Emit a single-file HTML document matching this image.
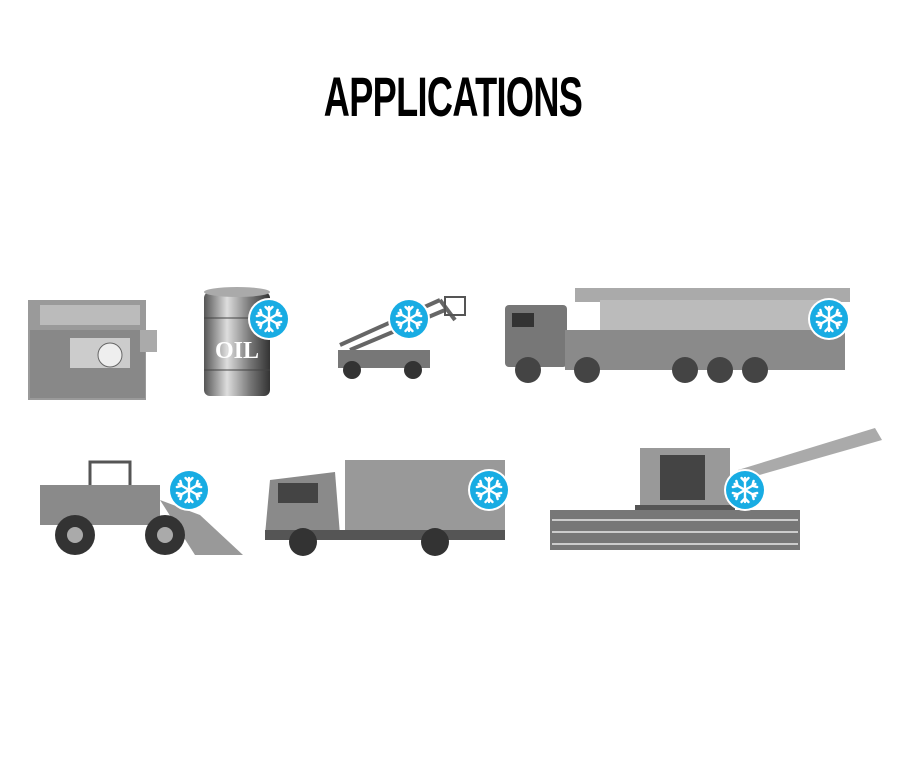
<!DOCTYPE html>
<html><head><meta charset="utf-8"><style>
html,body{margin:0;padding:0;background:#fff;width:906px;height:780px;overflow:hidden}
.t{position:absolute;left:0;top:64px;width:906px;text-align:center;font-family:"Liberation Sans",sans-serif;font-weight:bold;font-size:56px;letter-spacing:-1px;color:#000;transform:scaleX(0.645);}
svg{position:absolute;left:0;top:0}
</style></head><body>
<div class="t">APPLICATIONS</div>
<svg width="906" height="780" viewBox="0 0 906 780">
<defs>
<g id="arm"><line x1="0" y1="0" x2="0" y2="-12"/><polyline points="-3.5,-12 0,-8.5 3.5,-12"/></g>
<g id="badge">
<circle r="21" fill="#fff"/><circle r="19" fill="#18ace3"/>
<g stroke="#fff" stroke-width="2.4" stroke-linecap="round" fill="none">
<use href="#arm"/><use href="#arm" transform="rotate(60)"/><use href="#arm" transform="rotate(120)"/><use href="#arm" transform="rotate(180)"/><use href="#arm" transform="rotate(240)"/><use href="#arm" transform="rotate(300)"/>
</g></g>
<linearGradient id="cyl" x1="0" x2="1"><stop offset="0" stop-color="#555"/><stop offset=".35" stop-color="#ddd"/><stop offset=".7" stop-color="#777"/><stop offset="1" stop-color="#333"/></linearGradient>
</defs>
<g><rect x="28" y="300" width="118" height="100" fill="#9a9a9a"/>
<rect x="40" y="305" width="100" height="20" fill="#bbb"/>
<rect x="30" y="330" width="115" height="68" fill="#888"/>
<rect x="70" y="338" width="60" height="30" fill="#ccc"/>
<circle cx="110" cy="355" r="12" fill="#eee" stroke="#666"/>
<rect x="140" y="330" width="17" height="22" fill="#aaa"/></g>
<g><rect x="204" y="292" width="66" height="104" rx="6" fill="url(#cyl)"/>
<ellipse cx="237" cy="292" rx="33" ry="5" fill="#aaa"/>
<line x1="204" y1="318" x2="270" y2="318" stroke="#444"/><line x1="204" y1="370" x2="270" y2="370" stroke="#444"/>
<text x="237" y="358" font-family="Liberation Serif,serif" font-weight="bold" font-size="24" fill="#fff" text-anchor="middle">OIL</text></g>
<g stroke="#666" stroke-width="4" fill="none"><line x1="340" y1="345" x2="440" y2="300"/><line x1="350" y1="350" x2="445" y2="310"/><line x1="440" y1="300" x2="455" y2="320"/></g>
<rect x="445" y="297" width="20" height="18" fill="none" stroke="#555" stroke-width="2"/>
<rect x="338" y="350" width="92" height="18" fill="#777"/>
<circle cx="352" cy="370" r="9" fill="#333"/><circle cx="413" cy="370" r="9" fill="#333"/>
<g><rect x="575" y="288" width="275" height="14" fill="#aaa"/>
<rect x="600" y="300" width="230" height="30" fill="#bbb"/>
<rect x="505" y="305" width="62" height="62" rx="4" fill="#777"/>
<rect x="512" y="313" width="22" height="14" fill="#333"/>
<rect x="565" y="330" width="280" height="40" fill="#8a8a8a"/>
<g fill="#444"><circle cx="528" cy="370" r="13"/><circle cx="587" cy="370" r="13"/><circle cx="685" cy="370" r="13"/><circle cx="720" cy="370" r="13"/><circle cx="755" cy="370" r="13"/></g></g>
<g><rect x="90" y="462" width="40" height="45" fill="none" stroke="#555" stroke-width="3"/>
<rect x="40" y="485" width="120" height="40" fill="#8a8a8a"/>
<polygon points="160,500 200,515 243,555 195,555" fill="#999"/>
<circle cx="75" cy="535" r="20" fill="#333"/><circle cx="165" cy="535" r="20" fill="#333"/>
<circle cx="75" cy="535" r="8" fill="#aaa"/><circle cx="165" cy="535" r="8" fill="#aaa"/></g>
<g><rect x="345" y="460" width="160" height="75" fill="#999"/>
<polygon points="270,480 335,472 340,535 265,535" fill="#8a8a8a"/>
<rect x="278" y="483" width="40" height="20" fill="#444"/>
<rect x="265" y="530" width="240" height="10" fill="#555"/>
<circle cx="303" cy="542" r="14" fill="#333"/><circle cx="435" cy="542" r="14" fill="#333"/></g>
<g><polygon points="738,470 875,428 882,440 742,480" fill="#aaa"/>
<rect x="640" y="448" width="90" height="60" fill="#999"/>
<rect x="660" y="455" width="45" height="45" fill="#444"/>
<rect x="635" y="505" width="100" height="12" fill="#555"/>
<rect x="550" y="510" width="250" height="40" fill="#777"/>
<g stroke="#ccc" stroke-width="2"><line x1="552" y1="520" x2="798" y2="520"/><line x1="552" y1="532" x2="798" y2="532"/><line x1="552" y1="544" x2="798" y2="544"/></g></g>
<use href="#badge" x="269" y="319"/><use href="#badge" x="409" y="319"/><use href="#badge" x="829" y="319"/>
<use href="#badge" x="189" y="490"/><use href="#badge" x="489" y="490"/><use href="#badge" x="745" y="490"/>
</svg>
</body></html>
